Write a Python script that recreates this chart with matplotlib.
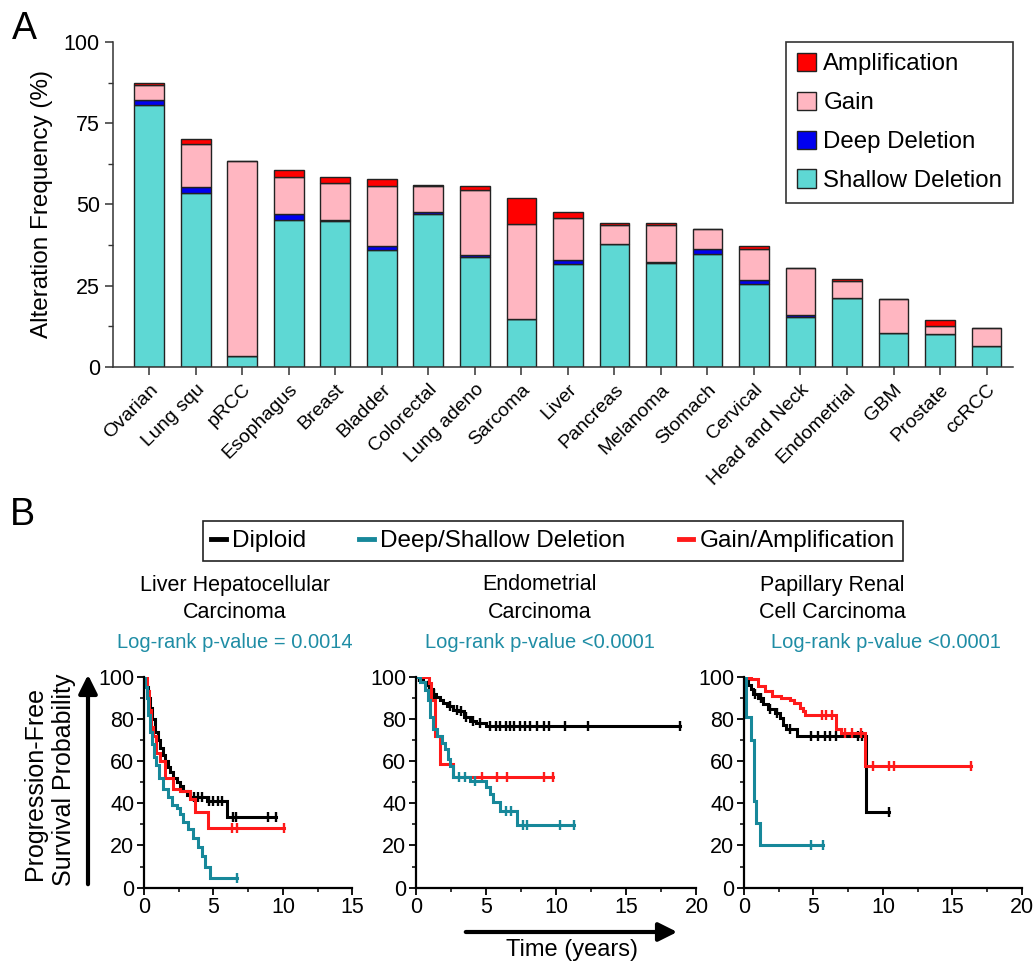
import numpy as np
import matplotlib
matplotlib.use('Agg')
import matplotlib.pyplot as plt
from matplotlib.patches import Patch, FancyArrowPatch
from matplotlib.lines import Line2D
from matplotlib.ticker import MultipleLocator

plt.rcParams['font.family'] = ['Liberation Sans', 'DejaVu Sans']

# ---- Panel A data (alteration frequency, %) ----
cancers = ['Ovarian', 'Lung squ', 'pRCC', 'Esophagus', 'Breast', 'Bladder', 'Colorectal',
           'Lung adeno', 'Sarcoma', 'Liver', 'Pancreas', 'Melanoma', 'Stomach', 'Cervical',
           'Head and Neck', 'Endometrial', 'GBM', 'Prostate', 'ccRCC']
shallow = [80.5, 53.5, 3.4, 45.1, 44.8, 35.9, 47.0, 33.8, 14.8, 31.6, 37.9, 32.1, 34.7, 25.4,
           15.4, 21.1, 10.6, 10.0, 6.6]
deep = [1.5, 1.9, 0.0, 1.9, 0.3, 1.3, 0.6, 0.8, 0.0, 1.2, 0.0, 0.2, 1.6, 1.3, 0.5, 0.0, 0.0, 0.3, 0.0]
gain = [4.9, 13.1, 60.1, 11.5, 11.4, 18.6, 8.0, 19.9, 29.1, 13.1, 5.8, 11.4, 6.2, 9.6, 14.7, 5.3,
        10.3, 2.4, 5.3]
amp = [0.5, 1.8, 0.0, 2.0, 2.0, 2.0, 0.5, 1.3, 8.0, 1.9, 0.7, 0.5, 0.0, 0.8, 0.0, 0.7, 0.0, 1.7, 0.0]

# ---- Panel B data (Kaplan-Meier steps: time in years, survival %) ----
liver_dip_t = [0, 0.15, 0.3, 0.45, 0.6, 0.8, 1.0, 1.15, 1.35, 1.5, 1.7, 1.87, 2.1, 2.35, 2.6, 2.8,
               3.1, 3.3, 4.5, 6.0, 9.5]
liver_dip_s = [100, 95, 90, 85, 80, 74, 70, 66, 63, 60, 57, 55, 52, 50, 48, 45.6, 44, 43, 41, 33.3, 33.3]
liver_dip_c = [3.6, 3.9, 4.2, 4.7, 5.0, 5.3, 5.6, 6.4, 6.6, 8.9, 9.5]
liver_del_t = [0, 0.1, 0.2, 0.3, 0.43, 0.6, 0.75, 0.9, 1.1, 1.4, 1.7, 2.0, 2.35, 2.6, 2.8, 3.2,
               3.55, 3.9, 4.15, 4.4, 4.75, 6.7]
liver_del_s = [100, 95, 90, 82, 74, 68, 62, 58, 52, 47, 43, 39, 37.7, 35, 31, 28, 23.5, 19.5, 14.8,
               10, 4.6, 4.6]
liver_del_c = [6.7]
liver_gain_t = [0, 0.2, 0.35, 0.5, 0.67, 0.85, 1.15, 1.5, 2.1, 2.6, 3.3, 3.7, 4.63, 10.1]
liver_gain_s = [100, 93, 84, 76, 72, 64, 60, 52, 47, 45.6, 42, 36, 28.5, 28.5]
liver_gain_c = [6.3, 6.7, 10.1]

endo_dip_t = [0, 0.3, 0.5, 0.76, 1.0, 1.2, 1.45, 1.7, 1.95, 2.2, 2.66, 3.0, 3.4, 3.85, 4.3, 5.0, 18.8]
endo_dip_s = [100, 99, 97.5, 96, 94, 92, 90.5, 89, 87.5, 86, 84, 83.5, 81, 79, 78, 76.5, 76.5]
endo_dip_c = [0.2, 0.4, 0.9, 1.3, 2.4, 2.9, 3.2, 3.6, 4.1, 4.6, 5.3, 5.7, 6.0, 6.4, 6.7, 7.0, 7.4,
              7.8, 8.1, 8.6, 9.1, 9.5, 10.6, 12.3, 18.8]
endo_del_t = [0, 0.3, 0.64, 0.85, 1.0, 1.24, 1.47, 1.83, 2.07, 2.3, 2.42, 2.66, 3.85, 5.0, 5.3, 5.5,
              6.0, 7.2, 11.3]
endo_del_s = [100, 97.6, 93.7, 89, 81, 75, 72, 68.6, 65.5, 61, 57.7, 52.5, 50.6, 47.5, 44.4, 40.4,
              36.5, 29.5, 29.5]
endo_del_c = [3.1, 3.5, 4.2, 6.4, 6.8, 7.6, 7.9, 10.3, 11.3]
endo_gain_t = [0, 0.9, 1.1, 1.35, 1.7, 2.66, 9.8]
endo_gain_s = [100, 97, 89, 72, 58.5, 52.5, 52.5]
endo_gain_c = [4.7, 5.75, 6.5, 9.1, 9.8]

prcc_dip_t = [0, 0.15, 0.3, 0.5, 0.65, 1.0, 1.37, 1.7, 2.2, 2.56, 2.8, 3.0, 3.8, 8.8, 10.4]
prcc_dip_s = [100, 98, 96, 94, 92, 90, 87, 84.5, 83, 80.5, 77, 75, 72, 36, 36]
prcc_dip_c = [0.8, 1.2, 1.9, 2.4, 3.3, 4.8, 5.3, 5.8, 6.2, 6.6, 8.2, 8.5, 10.4]
prcc_del_t = [0, 0.17, 0.53, 0.72, 0.89, 1.13, 5.7]
prcc_del_s = [100, 81, 70, 41, 30.6, 20.3, 20.3]
prcc_del_c = [4.85, 5.7]
prcc_gain_t = [0, 0.3, 0.53, 1.0, 1.5, 2.0, 2.7, 3.3, 3.6, 4.0, 4.25, 4.4, 6.6, 7.0, 8.7, 16.3]
prcc_gain_s = [100, 99.5, 98.7, 95.6, 93, 90.8, 90, 89, 87.6, 85, 83.7, 82, 75, 73.4, 57.5, 57.5]
prcc_gain_c = [5.6, 5.9, 6.3, 7.3, 7.8, 8.4, 9.3, 10.4, 10.8, 16.3]

C_SHALLOW = '#5ED8D4'
C_DEEP = '#0000F0'
C_GAIN = '#FFB6C1'
C_AMP = '#FF0000'
C_DIP = '#000000'
C_DEL = '#17889A'
C_GN = '#FF1A1A'
C_TXT = '#1F8DA5'

fig = plt.figure(figsize=(10.35, 9.65), dpi=100)

# ---------------- Panel A ----------------
axA = fig.add_axes([0.1092, 0.6197, 0.8696, 0.3368])
x = np.arange(len(cancers))
w = 0.64
ec = '#222222'
b0 = np.array(shallow)
b1 = b0 + np.array(deep)
b2 = b1 + np.array(gain)
axA.bar(x, shallow, w, color=C_SHALLOW, edgecolor=ec, linewidth=1.0)
axA.bar(x, deep, w, bottom=b0, color=C_DEEP, edgecolor=ec, linewidth=1.0)
axA.bar(x, gain, w, bottom=b1, color=C_GAIN, edgecolor=ec, linewidth=1.0)
axA.bar(x, amp, w, bottom=b2, color=C_AMP, edgecolor=ec, linewidth=1.0)

axA.set_xlim(-0.78, len(cancers) - 1 + 0.57)
axA.set_ylim(0, 100)
axA.set_yticks([0, 25, 50, 75, 100])
axA.yaxis.set_minor_locator(MultipleLocator(12.5))
axA.set_xticks(x)
axA.set_xticklabels(cancers, rotation=45, ha='right', rotation_mode='anchor', fontsize=14)
axA.tick_params(axis='y', labelsize=15.5, length=6, width=1.1, color='#333333')
axA.tick_params(axis='y', which='minor', length=3.5, width=1.0, color='#333333')
axA.tick_params(axis='x', length=6, width=1.1, color='#333333', pad=4)
axA.set_ylabel('Alteration Frequency (%)', fontsize=17.5, labelpad=8)
for s in ['top', 'right']:
    axA.spines[s].set_visible(False)
for s in ['left', 'bottom']:
    axA.spines[s].set_color('#333333')
    axA.spines[s].set_linewidth(1.1)

handles = [Patch(facecolor=C_AMP, edgecolor=ec, label='Amplification'),
           Patch(facecolor=C_GAIN, edgecolor=ec, label='Gain'),
           Patch(facecolor=C_DEEP, edgecolor=ec, label='Deep Deletion'),
           Patch(facecolor=C_SHALLOW, edgecolor=ec, label='Shallow Deletion')]
legA = axA.legend(handles=handles, loc='upper right', bbox_to_anchor=(1.0, 1.0), fontsize=17.3,
                  fancybox=False, edgecolor='#333333', framealpha=1, borderaxespad=0,
                  handlelength=0.8, handleheight=0.8, handletextpad=0.3, labelspacing=0.68,
                  borderpad=0.45)
legA.get_frame().set_linewidth(1.2)

fig.text(0.024, 0.970, 'A', fontsize=27, ha='center', va='center')
fig.text(0.022, 0.466, 'B', fontsize=27, ha='center', va='center')

# ---------------- Panel B ----------------
def km(ax, t, s, cens, color):
    t = np.array(t)
    s = np.array(s)
    ax.step(t, s, where='post', color=color, linewidth=2.2, solid_joinstyle='miter')
    c = np.array(cens)
    idx = np.searchsorted(t, c, side='right') - 1
    ax.plot(c, s[idx], linestyle='none', marker='|', markersize=7, markeredgewidth=1.7, color=color)


def style_km(ax, xmax):
    ax.set_xlim(0, xmax)
    ax.set_ylim(0, 100)
    ax.set_xticks(np.arange(0, xmax + 1, 5))
    ax.xaxis.set_minor_locator(MultipleLocator(2.5))
    ax.set_yticks(np.arange(0, 101, 20))
    ax.yaxis.set_minor_locator(MultipleLocator(10))
    ax.tick_params(labelsize=15.5, length=5, width=1.3, pad=2)
    ax.tick_params(which='minor', length=3, width=1.1)
    for sp in ['top', 'right']:
        ax.spines[sp].set_visible(False)
    for sp in ['left', 'bottom']:
        ax.spines[sp].set_linewidth(1.6)
    ax.patch.set_alpha(0)


ax1 = fig.add_axes([0.1391, 0.0801, 0.2014, 0.2187])
ax2 = fig.add_axes([0.4019, 0.0801, 0.2710, 0.2187])
ax3 = fig.add_axes([0.7188, 0.0801, 0.2686, 0.2187])

km(ax1, liver_dip_t, liver_dip_s, liver_dip_c, C_DIP)
km(ax1, liver_gain_t, liver_gain_s, liver_gain_c, C_GN)
km(ax1, liver_del_t, liver_del_s, liver_del_c, C_DEL)
style_km(ax1, 15)

km(ax2, endo_dip_t, endo_dip_s, endo_dip_c, C_DIP)
km(ax2, endo_gain_t, endo_gain_s, endo_gain_c, C_GN)
km(ax2, endo_del_t, endo_del_s, endo_del_c, C_DEL)
style_km(ax2, 20)

km(ax3, prcc_dip_t, prcc_dip_s, prcc_dip_c, C_DIP)
km(ax3, prcc_gain_t, prcc_gain_s, prcc_gain_c, C_GN)
km(ax3, prcc_del_t, prcc_del_s, prcc_del_c, C_DEL)
style_km(ax3, 20)

H = 965.0
W = 1035.0
titles = [('Liver Hepatocellular', 'Carcinoma', 'Log-rank p-value = 0.0014', 235, 235),
          ('Endometrial', 'Carcinoma', 'Log-rank p-value <0.0001', 540, 540),
          ('Papillary Renal', 'Cell Carcinoma', 'Log-rank p-value <0.0001', 832, 886)]
for l1, l2, p, xc, xp in titles:
    fig.text(xc / W, 1 - 585 / H, l1, fontsize=15.5, ha='center', va='center')
    fig.text(xc / W, 1 - 613 / H, l2, fontsize=15.5, ha='center', va='center')
    fig.text(xp / W, 1 - 643 / H, p, fontsize=14.5, ha='center', va='center', color=C_TXT)

legB_handles = [Line2D([], [], color=C_DIP, lw=3.5, label='Diploid'),
                Line2D([], [], color=C_DEL, lw=3.5, label='Deep/Shallow Deletion'),
                Line2D([], [], color=C_GN, lw=3.5, label='Gain/Amplification')]
legB = fig.legend(handles=legB_handles, loc='center', bbox_to_anchor=(553 / W, 1 - 541 / H),
                  ncol=3, fontsize=17.5, fancybox=False, edgecolor='#222222', framealpha=1,
                  handlelength=0.6, handletextpad=0.25, columnspacing=2.2, borderpad=0.35)
legB.get_frame().set_linewidth(1.2)

fig.text(35 / W, 1 - 784 / H, 'Progression-Free', fontsize=18, rotation=90, ha='center', va='center')
fig.text(64 / W, 1 - 780 / H, 'Survival Probability', fontsize=18, rotation=90, ha='center', va='center')
fig.text(572 / W, 1 - 950 / H, 'Time (years)', fontsize=17, ha='center', va='center')

fig.patches.append(FancyArrowPatch(
    (88 / W, 1 - 887 / H), (88 / W, 1 - 672 / H), transform=fig.transFigure,
    arrowstyle='-|>', mutation_scale=28, linewidth=3, color='black'))
fig.patches.append(FancyArrowPatch(
    (463 / W, 1 - 932 / H), (680 / W, 1 - 932 / H), transform=fig.transFigure,
    arrowstyle='-|>', mutation_scale=28, linewidth=3, color='black'))

fig.savefig('out.png', dpi=100, facecolor='white')
